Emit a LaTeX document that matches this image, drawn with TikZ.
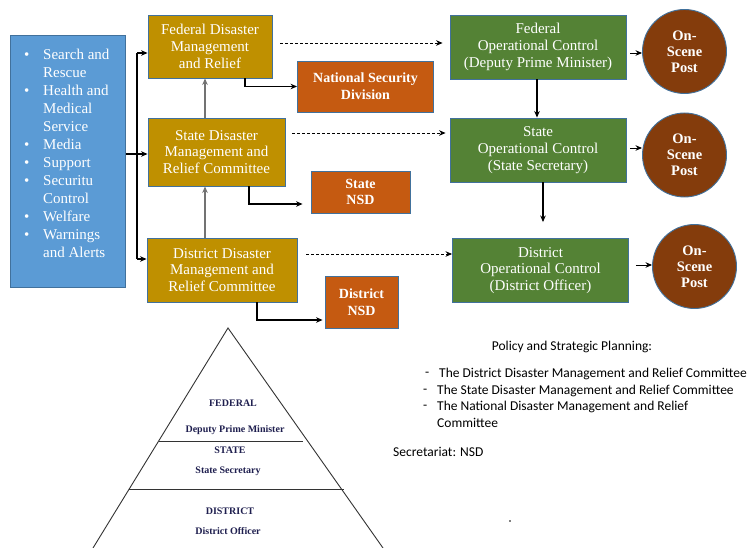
\documentclass[tikz,border=0pt]{standalone}
\usepackage{fontspec}
\setmainfont{Liberation Serif}
\newfontfamily\calib{Carlito}
\usetikzlibrary{arrows.meta}
\definecolor{bluef}{HTML}{5B9BD5}
\definecolor{goldf}{HTML}{BF9000}
\definecolor{orangef}{HTML}{C55A11}
\definecolor{greenf}{HTML}{548235}
\definecolor{brownf}{HTML}{843C0C}
\definecolor{bord}{HTML}{41719C}
\definecolor{navy}{HTML}{1F1F4F}
\tikzset{
  box/.style={draw=bord, line width=0.9pt, text=white, inner sep=0pt, align=center,
    font=\fontsize{15}{16.8}\selectfont},
  goldbox/.style={box, fill=goldf},
  orbox/.style={box, fill=orangef, font=\fontsize{14}{16.8}\selectfont\bfseries},
  grbox/.style={box, fill=greenf},
  post/.style={circle, draw=bord, line width=0.9pt, fill=brownf, text=white, inner sep=0pt,
    minimum size=84pt, align=center, font=\fontsize{14.5}{16}\selectfont\bfseries},
  arr/.style={-{Stealth[length=6.5pt,width=5.5pt]}, line width=1.1pt},
  dsh/.style={arr, dash pattern=on 3pt off 2pt, line width=0.8pt},
  pyr/.style={font=\fontsize{10}{12}\selectfont\bfseries, text=navy, inner sep=0pt},
  rt/.style={font=\calib\fontsize{13.5}{16}\selectfont, inner sep=0pt}
}
\begin{document}
\begin{tikzpicture}[x=1pt,y=-1pt]
\useasboundingbox[fill=white] (0,0) rectangle (750,548);
% left blue box
\node[box, fill=bluef, minimum width=115pt, minimum height=252pt, anchor=north west] (blue) at (10,35) {};
\node[anchor=north west, text=white, inner sep=0pt, align=left,
  font=\fontsize{15}{18}\selectfont] (list) at (24,49) {%
\makebox[19pt][l]{\textbullet}Search and\\ \makebox[19pt][l]{}Rescue\\
\makebox[19pt][l]{\textbullet}Health and\\ \makebox[19pt][l]{}Medical\\ \makebox[19pt][l]{}Service\\
\makebox[19pt][l]{\textbullet}Media\\
\makebox[19pt][l]{\textbullet}Support\\
\makebox[19pt][l]{\textbullet}Securitu\\ \makebox[19pt][l]{}Control\\
\makebox[19pt][l]{\textbullet}Welfare\\
\makebox[19pt][l]{\textbullet}Warnings\\ \makebox[19pt][l]{}and Alerts};
% gold boxes
\node[goldbox, minimum width=124pt, minimum height=63pt] (fdm) at (210,46.5) {Federal Disaster\\Management\\and Relief};
\node[goldbox, minimum width=137pt, minimum height=68pt] (sdm) at (216.5,152) {State Disaster\\Management and\\Relief Committee};
\node[goldbox, minimum width=150pt, minimum height=64pt] (ddm) at (222,270) {District Disaster\\Management and\\Relief Committee};
% orange boxes
\node[orbox, minimum width=136pt, minimum height=51pt] (nsd) at (365.5,86.5) {National Security\\Division};
\node[orbox, minimum width=99pt, minimum height=42pt] (snsd) at (360.5,192) {State\\NSD};
\node[orbox, minimum width=73pt, minimum height=52pt] (dnsd) at (361.5,302) {District\\NSD};
% green boxes
\node[grbox, minimum width=176pt, minimum height=64pt] (fop) at (538,47) {Federal\\Operational Control\\(Deputy Prime Minister)};
\node[grbox, minimum width=176pt, minimum height=64pt] (sop) at (538,150) {State\\Operational Control\\(State Secretary)};
\node[grbox, minimum width=176pt, minimum height=64pt] (dop) at (540.5,270.5) {District\\Operational Control\\(District Officer)};
% posts
\node[post] (fp) at (684.5,51.5) {On-\\Scene\\Post};
\node[post] (sp) at (684.5,155) {On-\\Scene\\Post};
\node[post] (dp) at (694.5,266.5) {On-\\Scene\\Post};
% bus from blue box
\coordinate (jF) at (137,53);
\coordinate (jS) at (137,154);
\coordinate (jD) at (137,259);
\draw[line width=1.1pt] (jF) -- (jD);
\draw[arr] (blue.east |- jS) -- (sdm.west |- jS);
\draw[arr] (jF) -- (fdm.west |- jF);
\draw[arr] (jD) -- (ddm.west |- jD);
% vertical up arrows
\coordinate (vx) at (205,0);
\draw[arr, draw=black!55, fill=black] (sdm.north -| vx) -- (fdm.south -| vx);
\draw[arr, draw=black!55, fill=black] (ddm.north -| vx) -- (sdm.south -| vx);
% to NSD boxes
\coordinate (n1) at (245,0);
\coordinate (n2) at (249,0);
\coordinate (n3) at (257,0);
\draw[arr] (fdm.south -| n1) |- (nsd.west);
\draw[arr] (sdm.south -| n2) |- ([xshift=-8pt]snsd.west |- 0,204);
\draw[arr] (ddm.south -| n3) |- ([xshift=-2pt]dnsd.west |- 0,320);
% dashed
\draw[dsh] ([xshift=8pt]fdm.east |- 0,43) -- ([xshift=-7pt]fop.west |- 0,43);
\draw[dsh] ([xshift=7pt]sdm.east |- 0,133) -- ([xshift=-4pt]sop.west |- 0,133);
\draw[dsh] ([xshift=9pt]ddm.east |- 0,254) -- (dop.west |- 0,254);
% operational chain
\coordinate (o1) at (537,0);
\coordinate (o2) at (543,0);
\draw[arr] (fop.south -| o1) -- (sop.north -| o1);
\draw[arr, shorten >=16pt] (sop.south -| o2) -- (dop.north -| o2);
% to posts
\draw[arr, line width=0.9pt] ([xshift=4pt]fop.east |- 0,53) -- (fp.west |- 0,53);
\draw[arr, line width=0.9pt] ([xshift=4pt]sop.east |- 0,148) -- (sp.west |- 0,148);
\draw[arr, line width=0.9pt] ([xshift=7pt]dop.east |- 0,265) -- (dp.west |- 0,265);
% pyramid
\coordinate (apex) at (228,328);
\coordinate (bl) at (93,548);
\coordinate (br) at (383,548);
\draw[line width=0.9pt, draw=black!80] (bl) -- (apex) -- (br);
\draw[line width=0.9pt, draw=black!80] (159,441) -- (303,441);
\draw[line width=0.9pt, draw=black!80] (129,489) -- (344,489);
\node[pyr] (t1) at (233,403) {FEDERAL};
\node[pyr] (t2) at (235,430) {Deputy Prime Minister};
\node[pyr] (t3) at (230,450) {STATE};
\node[pyr] (t4) at (228,471) {State Secretary};
\node[pyr] (t5) at (230,511) {DISTRICT};
\node[pyr] (t6) at (228,531) {District Officer};
% right text
\node[rt] (pol) at (572,347) {Policy and Strategic Planning:};
\node[rt, anchor=west] (d1) at (425,374) {-};
\node[rt, anchor=west] (i1) at (439,374) {The District Disaster Management and Relief Committee};
\node[rt, anchor=west] (d2) at (423,391) {-};
\node[rt, anchor=west] (i2) at (437,391) {The State Disaster Management and Relief Committee};
\node[rt, anchor=west] (d3) at (423,407) {-};
\node[rt, anchor=west] (i3) at (437,407) {The National Disaster Management and Relief};
\node[rt, anchor=west] (i3b) at (437,423) {Committee};
\node[rt, anchor=west] (sec) at (393,452) {Secretariat: NSD};
\fill (510,521) circle (0.8pt);
\end{tikzpicture}
\end{document}
